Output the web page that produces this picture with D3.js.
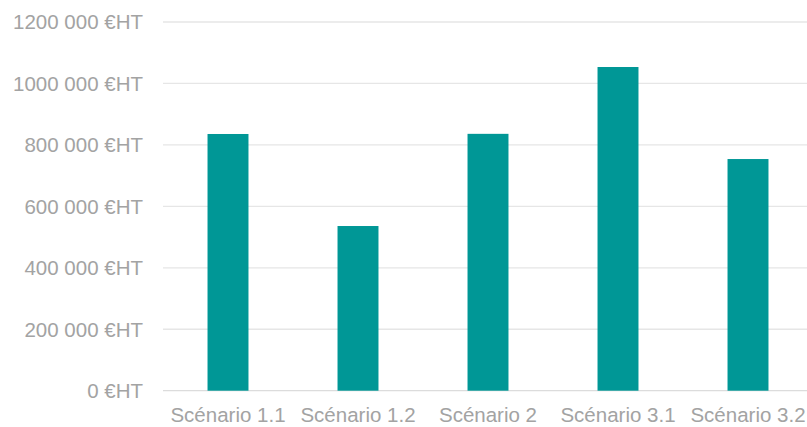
<!DOCTYPE html>
<html>
<head>
<meta charset="utf-8">
<script src="https://cdn.jsdelivr.net/npm/d3@7"></script>
<style>
  body { margin: 0; background: #fff; }
  svg text { font-family: "Liberation Sans", Arial, sans-serif; fill: #a3a3a3; }
</style>
</head>
<body>
<svg class="chart"></svg>
<script>
/* Coût par scénario */
const categories = ["Scénario 1.1", "Scénario 1.2", "Scénario 2", "Scénario 3.1", "Scénario 3.2"]
const values = [835500, 536000, 836000, 1053500, 754000]
const yTicks = [0, 200000, 400000, 600000, 800000, 1000000, 1200000]

const width = 807, height = 427
const margin = {left: 163, right: 813, top: 22, bottom: 390.7}

const fmt = d => {
    if (d === 0) return "0 €HT"
    const k = Math.floor(d / 1000), r = d % 1000
    return k + " " + String(r).padStart(3, "0") + " €HT"
}

const x = d3.scaleBand()
    .domain(categories)
    .range([margin.left, margin.right])
    .paddingInner(0.685)
    .paddingOuter(0.3425)

const y = d3.scaleLinear()
    .domain([0, 1200000])
    .range([margin.bottom, margin.top])

const svg = d3.select("svg.chart")
    .attr("width", width)
    .attr("height", height)

// grid lines
svg.append("g")
    .selectAll("line")
    .data(yTicks)
    .enter()
    .append("line")
    .attr("x1", margin.left)
    .attr("x2", width)
    .attr("y1", d => y(d))
    .attr("y2", d => y(d))
    .attr("stroke", d => d === 0 ? "#dcdcdc" : "#e6e6e6")
    .attr("stroke-width", 1.3)

// y labels
svg.append("g")
    .selectAll("text")
    .data(yTicks)
    .enter()
    .append("text")
    .attr("x", 143)
    .attr("y", d => y(d))
    .attr("dy", "0.36em")
    .attr("text-anchor", "end")
    .style("font-size", "20.5px")
    .text(fmt)

// bars
svg.append("g")
    .selectAll("rect")
    .data(values)
    .enter()
    .append("rect")
    .attr("x", (d, i) => x(categories[i]))
    .attr("y", d => y(d))
    .attr("width", x.bandwidth())
    .attr("height", d => y(0) - y(d))
    .attr("fill", "#009796")

// x labels
svg.append("g")
    .selectAll("text")
    .data(categories)
    .enter()
    .append("text")
    .attr("x", d => x(d) + x.bandwidth() / 2)
    .attr("y", 422)
    .attr("text-anchor", "middle")
    .style("font-size", "20.5px")
    .text(d => d)
</script>
</body>
</html>
